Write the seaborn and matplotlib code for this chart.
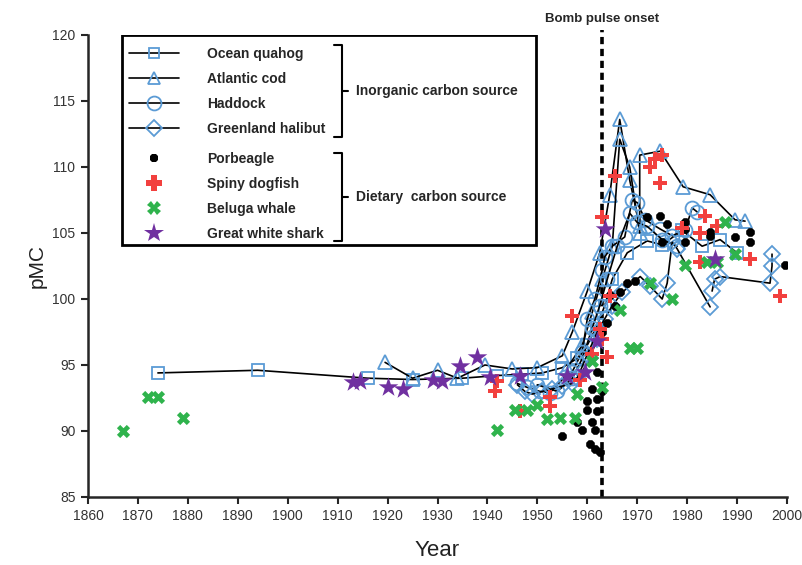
import matplotlib
matplotlib.use("Agg")
import matplotlib.pyplot as plt
from matplotlib.lines import Line2D
from matplotlib.patches import Rectangle
import seaborn as sns

# --- data (year, pMC) ---
quahog_year = [1874, 1894, 1916, 1925, 1935, 1942, 1947, 1951, 1955, 1958, 1960, 1962,
               1963.5, 1965, 1968, 1972, 1975, 1979, 1983, 1986.6, 1990]
quahog_pmc = [94.4, 94.6, 94.0, 93.9, 94.0, 94.2, 94.3, 94.4, 94.8, 95.5, 96.5, 98.0,
              99.5, 101.5, 103.5, 104.4, 104.1, 105.2, 104.0, 104.5, 103.5]

cod_a_year = [1919.5, 1925, 1930, 1934, 1939.5, 1945, 1950, 1955, 1957, 1960, 1962.5,
              1964.5, 1966.5, 1968.5, 1970.5]
cod_a_pmc = [95.2, 94.0, 94.6, 94.0, 95.0, 94.7, 94.8, 95.7, 97.5, 100.6, 103.5,
             107.9, 113.6, 109.0, 105.5]
cod_b_year = [1956, 1959, 1961, 1963, 1965, 1966.5, 1968.5, 1970.5, 1970.5, 1974.6,
              1979.2, 1984.6, 1989.6, 1991.6]
cod_b_pmc = [94.8, 96.5, 99.0, 101.5, 104.0, 112.1, 110.0, 105.0, 110.9, 111.2,
             108.5, 107.9, 106.0, 105.9]

haddock_a_year = [1946, 1948, 1950.5, 1952.5, 1955.5, 1957, 1959, 1960, 1961.5, 1963,
                  1963.5, 1965, 1967.5, 1969, 1970, 1971.6, 1974.6, 1977, 1979.6, 1981, 1982]
haddock_a_pmc = [93.6, 93.3, 93.0, 92.9, 94.1, 94.5, 96.0, 98.5, 100.0, 102.2,
                 103.2, 104.0, 104.7, 107.5, 107.3, 106.0, 105.3, 104.8, 105.2, 106.9, 106.6]
haddock_b_year = [1950, 1954, 1957, 1959, 1961, 1962.5, 1964, 1966, 1968.5, 1970,
                  1972, 1975, 1978]
haddock_b_pmc = [93.5, 93.0, 94.0, 95.5, 97.8, 99.5, 101.5, 104.0, 106.5, 105.8,
                 105.5, 104.5, 104.0]

halibut_a_year = [1946, 1947.5, 1949, 1951, 1953, 1955, 1957, 1959, 1960.5, 1962]
halibut_a_pmc = [93.5, 93.0, 92.8, 93.0, 93.2, 93.4, 93.6, 94.5, 95.5, 97.0]
halibut_b_year = [1958, 1960, 1962, 1963.5, 1965, 1967, 1970.6, 1972.5, 1975, 1976,
                  1977, 1978, 1984.6]
halibut_b_pmc = [94.0, 95.8, 97.5, 98.5, 99.5, 100.5, 101.7, 101.0, 100.0, 101.2,
                 104.3, 103.8, 99.4]
halibut_c_year = [1985, 1985.5, 1986.6, 1996.6, 1997, 1997]
halibut_c_pmc = [100.6, 101.5, 101.7, 101.2, 102.5, 103.4]

porbeagle_year = [1955, 1958, 1959, 1960, 1960.5, 1961, 1961, 1961.5, 1961.5, 1962,
                  1962, 1962.5, 1962, 1963, 1960, 1963, 1964, 1964.6, 1965.6, 1966.5,
                  1968, 1969.6, 1972, 1974.6, 1975, 1976, 1979.6, 1979.6, 1979.6,
                  1984.6, 1984.6, 1989.6, 1992.6, 1992.6, 1999.6]
porbeagle_pmc = [89.6, 90.7, 90.1, 91.6, 89.0, 90.7, 93.2, 90.1, 88.6, 92.4,
                 94.5, 88.4, 91.5, 93.0, 92.3, 97.5, 98.2, 100.3, 99.5, 100.5,
                 101.2, 101.4, 106.2, 106.3, 104.3, 105.7, 105.8, 105.3, 104.3,
                 105.1, 104.8, 104.7, 105.1, 104.3, 102.6]

dogfish_year = [1941.5, 1942, 1946.5, 1952.5, 1952.5, 1957, 1958.5, 1961, 1962.5, 1963,
                1963, 1964, 1964.5, 1965.5, 1972.5, 1973.5, 1974.6, 1975, 1979,
                1982.6, 1982.6, 1983.6, 1986, 1992.6, 1998.6]
dogfish_pmc = [93.0, 93.8, 91.5, 92.6, 91.9, 98.7, 93.9, 95.8, 97.7, 106.2,
               97.0, 95.6, 100.2, 109.3, 110.0, 110.6, 108.8, 110.9, 105.4,
               105.0, 102.8, 106.3, 105.5, 103.0, 100.2]

beluga_year = [1867, 1872, 1874, 1879, 1942, 1945.5, 1948, 1950, 1952, 1954.5,
               1957.5, 1958, 1961, 1963, 1966.5, 1968.5, 1970, 1972.5, 1977,
               1979.5, 1984, 1986, 1987.6, 1989.6]
beluga_pmc = [90.0, 92.6, 92.6, 91.0, 90.1, 91.6, 91.6, 92.0, 90.9, 91.0,
              91.0, 92.8, 95.3, 93.3, 99.2, 96.3, 96.3, 101.2, 100.0,
              102.6, 102.8, 102.8, 105.8, 103.4]

shark_year = [1913, 1914.5, 1920, 1923, 1929, 1931, 1934.5, 1938, 1940.5, 1946.5,
              1956, 1959.5, 1962, 1963.5, 1985.6]
shark_pmc = [93.7, 93.8, 93.3, 93.2, 93.9, 93.8, 94.9, 95.6, 94.1, 94.2,
             94.2, 94.5, 96.8, 105.3, 103.0]

inorganic = ["Ocean quahog", "Atlantic cod", "Haddock", "Greenland halibut"]
dietary = ["Porbeagle", "Spiny dogfish", "Beluga whale", "Great white shark"]
bomb_year = 1963

BLUE = "#5b9bd5"
RED = "#f2403e"
GREEN = "#2fb34c"
PURPLE = "#7030a0"

sns.set_style("ticks")
plt.rcParams["font.family"] = ["Liberation Sans", "DejaVu Sans"]

fig = plt.figure(figsize=(8.03, 5.65), dpi=100)
ax = fig.add_axes([88 / 803, 68 / 565, 699 / 803, 462 / 565])

line_kw = dict(color="black", lw=1.2, estimator=None, sort=False, mfc="none",
               mec=BLUE, mew=1.3, legend=False, ax=ax, zorder=3)
sns.lineplot(x=quahog_year, y=quahog_pmc, marker="s", ms=8, **line_kw)
sns.lineplot(x=cod_a_year, y=cod_a_pmc, marker="^", ms=10, **line_kw)
sns.lineplot(x=cod_b_year, y=cod_b_pmc, marker="^", ms=10, **line_kw)
sns.lineplot(x=haddock_a_year, y=haddock_a_pmc, marker="o", ms=10, **line_kw)
sns.lineplot(x=haddock_b_year, y=haddock_b_pmc, marker="o", ms=10, **line_kw)
sns.lineplot(x=halibut_a_year, y=halibut_a_pmc, marker="D", ms=8, **line_kw)
sns.lineplot(x=halibut_b_year, y=halibut_b_pmc, marker="D", ms=8, **line_kw)
sns.lineplot(x=halibut_c_year, y=halibut_c_pmc, marker="D", ms=8, **line_kw)

sns.scatterplot(x=porbeagle_year, y=porbeagle_pmc, marker="8", s=45, color="black",
                linewidth=0, ax=ax, zorder=4)
sns.scatterplot(x=dogfish_year, y=dogfish_pmc, marker="P", s=110, color=RED,
                linewidth=0, ax=ax, zorder=4)
sns.scatterplot(x=beluga_year, y=beluga_pmc, marker="X", s=90, color=GREEN,
                linewidth=0, ax=ax, zorder=4)
sns.scatterplot(x=shark_year, y=shark_pmc, marker="*", s=220, color=PURPLE,
                linewidth=0, ax=ax, zorder=4)

# bomb pulse onset
ax.axvline(bomb_year, ymin=0, ymax=1.01, color="black", lw=2.6,
           linestyle=(0, (2.0, 1.3)), clip_on=False, zorder=2)
ax.text(bomb_year, 121.2, "Bomb pulse onset", ha="center", va="center",
        fontsize=9.5, fontweight="bold")

ax.set_xlim(1860, 2000)
ax.set_ylim(85, 120)
ax.set_xticks(range(1860, 2001, 10))
ax.set_yticks(range(85, 121, 5))
ax.tick_params(direction="out", length=5, width=1.5, labelsize=10,
               labelcolor="#333333", pad=4)
for side in ["left", "bottom"]:
    ax.spines[side].set_linewidth(1.8)
sns.despine(ax=ax)
ax.set_xlabel("Year", fontsize=16, labelpad=12, color="#222222")
ax.set_ylabel("pMC", fontsize=15, labelpad=4, color="#222222")


# legend box and brackets, placed in figure pixels
def px(x, y):
    return ((x - 88) / 699, (497 - y) / 462)


x0, y0 = px(122, 245)
x1, y1 = px(536, 35)
ax.add_patch(Rectangle((x0, y0), x1 - x0, y1 - y0, transform=ax.transAxes,
                       fill=False, lw=2, ec="black", zorder=5))

line_handles = [
    Line2D([], [], color="black", lw=1.2, marker="s", ms=7, mfc="none", mec=BLUE, mew=1.3),
    Line2D([], [], color="black", lw=1.2, marker="^", ms=9, mfc="none", mec=BLUE, mew=1.3),
    Line2D([], [], color="black", lw=1.2, marker="o", ms=10, mfc="none", mec=BLUE, mew=1.3),
    Line2D([], [], color="black", lw=1.2, marker="D", ms=8, mfc="none", mec=BLUE, mew=1.3),
]
point_handles = [
    Line2D([], [], ls="none", marker="8", ms=7, color="black", mew=0),
    Line2D([], [], ls="none", marker="P", ms=11, color=RED, mew=0),
    Line2D([], [], ls="none", marker="X", ms=10, color=GREEN, mew=0),
    Line2D([], [], ls="none", marker="*", ms=15, color=PURPLE, mew=0),
]
leg_kw = dict(loc="upper left", bbox_transform=ax.transAxes, frameon=False,
              borderaxespad=0, borderpad=0, handlelength=3.6, handletextpad=2.0,
              labelspacing=0.8, prop={"size": 10, "weight": "bold"})
leg1 = ax.legend(line_handles, inorganic, bbox_to_anchor=px(129, 47), **leg_kw)
ax.add_artist(leg1)
ax.legend(point_handles, dietary, bbox_to_anchor=px(129, 152), **leg_kw)


def bracket(top, bottom, label):
    xa, ya = px(334, top)
    xb, yb = px(342, bottom)
    xm, ym = px(348, (top + bottom) / 2)
    kw = dict(transform=ax.transAxes, color="black", lw=1.5, clip_on=False, zorder=6)
    ax.add_line(Line2D([xa, xb, xb, xa], [ya, ya, yb, yb], **kw))
    ax.add_line(Line2D([xb, xm], [ym, ym], **kw))
    tx, _ = px(356, 0)
    ax.text(tx, ym, label, transform=ax.transAxes, va="center", ha="left",
            fontsize=10, fontweight="bold")


bracket(45, 137, "Inorganic carbon source")
bracket(153, 241, "Dietary  carbon source")

fig.savefig("out.png", dpi=100)
